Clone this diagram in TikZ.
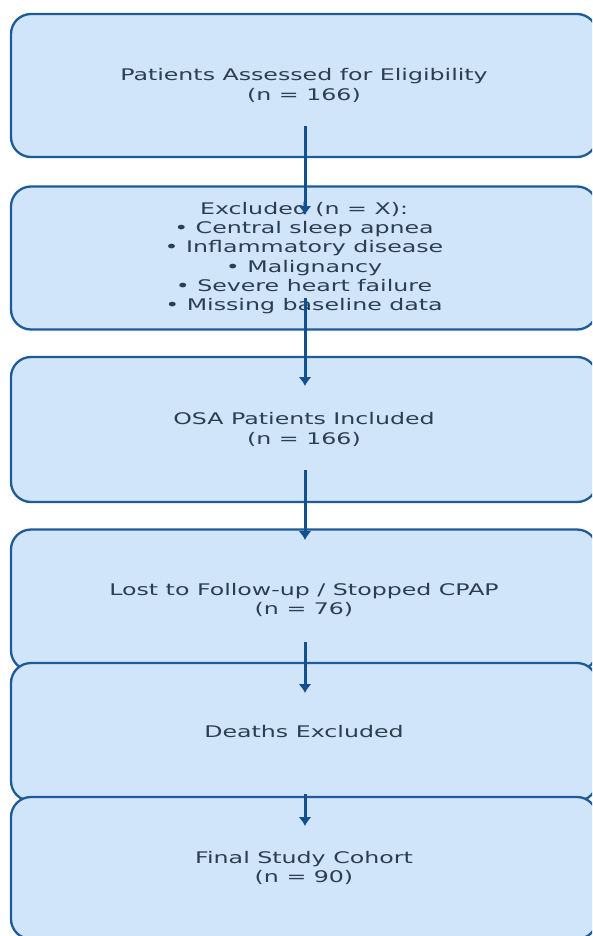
\documentclass[tikz,border=0pt]{standalone}
\usepackage{fontspec}
\newfontfamily\flowfont[FakeStretch=1.48]{DejaVu Sans}
\usetikzlibrary{arrows.meta}
\definecolor{boxfill}{RGB}{208,228,250}
\definecolor{boxedge}{RGB}{31,90,153}
\definecolor{txt}{RGB}{44,62,80}
\definecolor{arr}{RGB}{18,80,145}
\tikzset{
  flowbox/.style={draw=boxedge, fill=boxfill, line width=2.3pt, rounded corners=20pt,
    rectangle, minimum width=586pt, inner sep=0pt, align=center, text=txt,
    font=\flowfont\fontsize{16}{19.2}\selectfont},
  flowarrow/.style={draw=arr, line width=3pt, -{Latex[length=9pt,width=13pt]}}
}
\begin{document}
\begin{tikzpicture}[x=1pt,y=-1pt]
\useasboundingbox (0,0) rectangle (592,936);
\clip (0,0) rectangle (592,936);
\node[flowbox, minimum height=143pt] (b1) at (304,85.5) {Patients Assessed for Eligibility\\(n = 166)};
\node[flowbox, minimum height=143pt] (b2) at (304,258) {Excluded (n = X):\\• Central sleep apnea\\• Inflammatory disease\\• Malignancy\\• Severe heart failure\\• Missing baseline data};
\node[flowbox, minimum height=145pt] (b3) at (304,429.5) {OSA Patients Included\\(n = 166)};
\node[flowbox, minimum height=141pt] (b4) at (304,600) {Lost to Follow-up / Stopped CPAP\\(n = 76)};
\node[flowbox, minimum height=138pt] (b5) at (304,732) {Deaths Excluded};
\node[flowbox, minimum height=142pt] (b6) at (304,868) {Final Study Cohort\\(n = 90)};
\coordinate (a1s) at (305,126); \coordinate (a1e) at (305,215);
\coordinate (a2s) at (305,298); \coordinate (a2e) at (305,386);
\coordinate (a3s) at (305,470); \coordinate (a3e) at (305,540);
\coordinate (a4s) at (305,642); \coordinate (a4e) at (305,693);
\coordinate (a5s) at (305,794); \coordinate (a5e) at (305,826);
\draw[flowarrow] (a1s) -- (a1e);
\draw[flowarrow] (a2s) -- (a2e);
\draw[flowarrow] (a3s) -- (a3e);
\draw[flowarrow] (a4s) -- (a4e);
\draw[flowarrow] (a5s) -- (a5e);
\end{tikzpicture}
\end{document}
